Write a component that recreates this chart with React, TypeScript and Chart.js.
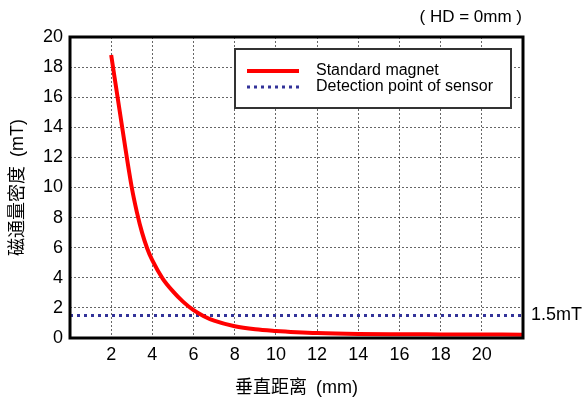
import React, { useEffect, useRef } from 'react';
import { Chart, registerables } from 'chart.js';

Chart.register(...registerables);

// Data
const distances = [2, 2.5, 3, 3.25, 3.5, 3.75, 4, 4.5, 5, 5.5, 6, 6.5, 7, 8, 9, 10, 11, 12, 14, 16, 18, 20, 22];
const fluxDensity = [18.8, 14.3, 10.0, 8.35, 7.0, 5.95, 5.15, 3.95, 3.1, 2.4, 1.85, 1.45, 1.15, 0.78, 0.58, 0.47, 0.39, 0.33, 0.27, 0.25, 0.24, 0.23, 0.22];
const thresholdRange = [0, 22];
const thresholdValue = 1.5;
const seriesLabels = ['Standard magnet', 'Detection point of sensor'];
const xTickLabels = ['2', '4', '6', '8', '10', '12', '14', '16', '18', '20'];
const yTickLabels = ['0', '2', '4', '6', '8', '10', '12', '14', '16', '18', '20'];
const xTitle = '垂直距离\u2002(mm)';
const yTitle = '磁通量密度\u2002(mT)';
const noteText = '( HD = 0mm )';
const thresholdText = '1.5mT';

const FONT = '"Liberation Sans", Arial, "Noto Sans CJK SC", sans-serif';
const RED = '#ff0000';
const NAVY = '#333399';

const overlayPlugin = {
  id: 'overlay',
  afterDatasetsDraw(chart: any) {
    const { ctx, chartArea } = chart;
    const { left, top, right, bottom } = chartArea;
    ctx.save();
    // legend box
    const bx = left + 165, by = top + 12, bw = 276, bh = 59;
    ctx.fillStyle = '#ffffff';
    ctx.fillRect(bx, by, bw, bh);
    ctx.strokeStyle = '#333333';
    ctx.lineWidth = 2;
    ctx.strokeRect(bx, by, bw, bh);
    const row1 = by + 22, row2 = by + 38;
    ctx.lineCap = 'butt';
    ctx.strokeStyle = RED;
    ctx.lineWidth = 4;
    ctx.beginPath();
    ctx.moveTo(bx + 12, row1);
    ctx.lineTo(bx + 64, row1);
    ctx.stroke();
    ctx.strokeStyle = NAVY;
    ctx.lineWidth = 3;
    ctx.setLineDash([3, 4]);
    ctx.beginPath();
    ctx.moveTo(bx + 12, row2);
    ctx.lineTo(bx + 64, row2);
    ctx.stroke();
    ctx.setLineDash([]);
    ctx.fillStyle = '#000000';
    ctx.font = `16px ${FONT}`;
    ctx.textAlign = 'left';
    ctx.textBaseline = 'middle';
    ctx.fillText(seriesLabels[0], bx + 81, row1);
    ctx.fillText(seriesLabels[1], bx + 81, row2);
    // frame
    ctx.strokeStyle = '#000000';
    ctx.lineWidth = 3;
    ctx.strokeRect(left, top, right - left, bottom - top);
    // notes
    ctx.font = `17px ${FONT}`;
    ctx.textAlign = 'right';
    ctx.textBaseline = 'middle';
    ctx.fillText(noteText, right - 1, 17);
    ctx.font = `18px ${FONT}`;
    ctx.textAlign = 'left';
    const ty = chart.scales.y.getPixelForValue(thresholdValue);
    ctx.fillText(thresholdText, right + 8, ty);
    ctx.restore();
  },
};

export default function App() {
  const ref = useRef<HTMLCanvasElement>(null);
  useEffect(() => {
    document.body.style.margin = '0';
    const canvas = ref.current;
    if (!canvas) return;
    const chart = new Chart(canvas, {
      type: 'line',
      data: {
        datasets: [
          {
            label: seriesLabels[0],
            data: distances.map((d, i) => ({ x: d, y: fluxDensity[i] })),
            borderColor: RED,
            borderWidth: 4,
            pointRadius: 0,
            cubicInterpolationMode: 'monotone',
            fill: false,
          },
          {
            label: seriesLabels[1],
            data: thresholdRange.map((d) => ({ x: d, y: thresholdValue })),
            borderColor: NAVY,
            borderWidth: 3,
            borderDash: [3, 4],
            borderCapStyle: 'butt',
            pointRadius: 0,
            fill: false,
          },
        ],
      },
      options: {
        responsive: false,
        animation: false,
        layout: { padding: { left: 0, top: 37, right: 59, bottom: 0 } },
        plugins: { legend: { display: false }, tooltip: { enabled: false } },
        scales: {
          x: {
            type: 'linear',
            min: 0,
            max: 22,
            afterFit(scale: any) { scale.height = 62; },
            afterBuildTicks(scale: any) {
              scale.ticks = [0, ...xTickLabels.map(Number), 22].map((v) => ({ value: v }));
            },
            ticks: {
              autoSkip: false,
              maxRotation: 0,
              padding: 6,
              color: '#000000',
              font: { family: FONT, size: 18 },
              callback: (v: any) => (xTickLabels.includes(String(v)) ? String(v) : ''),
            },
            grid: { color: 'rgba(0,0,0,0.6)', lineWidth: 1, drawTicks: false },
            border: { display: false, dash: [2, 2] },
            title: {
              display: true,
              text: xTitle,
              color: '#000000',
              font: { family: FONT, size: 18 },
              padding: { top: 0, bottom: 1 },
            },
          },
          y: {
            type: 'linear',
            min: 0,
            max: 20,
            afterFit(scale: any) { scale.width = 70; },
            afterBuildTicks(scale: any) {
              scale.ticks = yTickLabels.map((v) => ({ value: Number(v) }));
            },
            ticks: {
              padding: 7,
              color: '#000000',
              font: { family: FONT, size: 18 },
              callback: (v: any) => String(v),
            },
            grid: { color: 'rgba(0,0,0,0.6)', lineWidth: 1, drawTicks: false },
            border: { display: false, dash: [2, 2] },
            title: {
              display: true,
              text: yTitle,
              color: '#000000',
              font: { family: FONT, size: 18 },
              padding: { top: 7, bottom: 0 },
            },
          },
        },
      },
      plugins: [overlayPlugin],
    });
    return () => chart.destroy();
  }, []);
  return <canvas ref={ref} width={582} height={400} style={{ display: 'block' }} />;
}
